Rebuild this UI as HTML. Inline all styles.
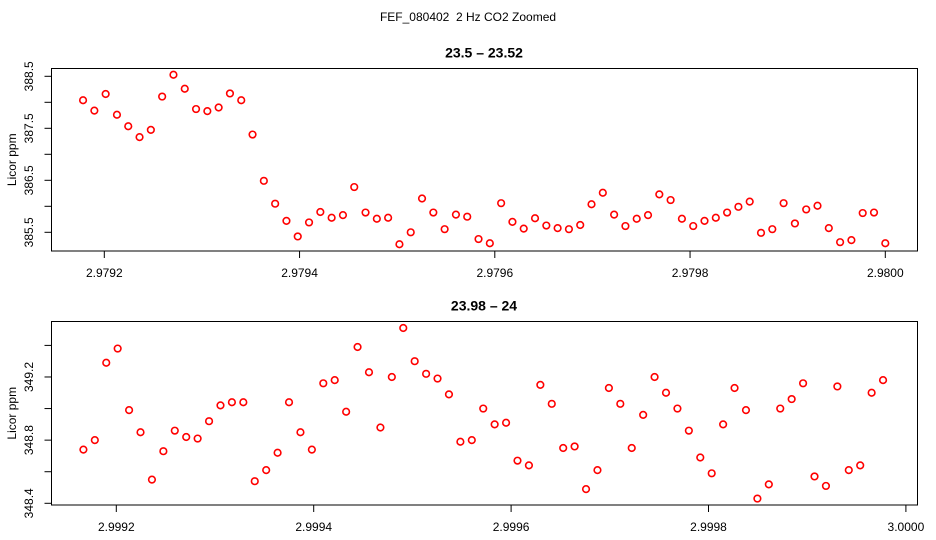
<!DOCTYPE html>
<html><head><meta charset="utf-8"><style>
body{margin:0;background:#fff;}
svg{display:block;font-family:"Liberation Sans",Arial,sans-serif;}
</style></head><body>
<svg id="c" width="936" height="540"></svg>
<script>
const topValues=[388.04,387.84,388.16,387.76,387.54,387.33,387.47,388.11,388.53,388.26,387.87,387.83,387.90,388.17,388.04,387.38,386.49,386.05,385.72,385.42,385.69,385.89,385.78,385.83,386.37,385.88,385.76,385.78,385.27,385.50,386.15,385.88,385.56,385.84,385.80,385.37,385.29,386.06,385.70,385.57,385.77,385.63,385.58,385.56,385.64,386.04,386.26,385.84,385.62,385.76,385.83,386.23,386.12,385.76,385.62,385.72,385.78,385.88,385.99,386.09,385.49,385.56,386.06,385.67,385.94,386.01,385.58,385.31,385.35,385.87,385.88,385.29];
const bottomValues=[348.74,348.80,349.29,349.38,348.99,348.85,348.55,348.73,348.86,348.82,348.81,348.92,349.02,349.04,349.04,348.54,348.61,348.72,349.04,348.85,348.74,349.16,349.18,348.98,349.39,349.23,348.88,349.20,349.51,349.30,349.22,349.19,349.09,348.79,348.80,349.00,348.90,348.91,348.67,348.64,349.15,349.03,348.75,348.76,348.49,348.61,349.13,349.03,348.75,348.96,349.20,349.10,349.00,348.86,348.69,348.59,348.90,349.13,348.99,348.43,348.52,349.00,349.06,349.16,348.57,348.51,349.14,348.61,348.64,349.10,349.18];
const topXTicks=["2.9792","2.9794","2.9796","2.9798","2.9800"];
const topYTicks=[385.5,386,386.5,387,387.5,388,388.5];
const topYLabels=["385.5","","386.5","","387.5","","388.5"];
const bottomXTicks=["2.9992","2.9994","2.9996","2.9998","3.0000"];
const bottomYTicks=[348.4,348.6,348.8,349.0,349.2,349.4];
const bottomYLabels=["348.4","","348.8","","349.2",""];
const STEP=1/86400;
const topLast=2.98, bottomLast=3.0-2*STEP;

const svg=document.getElementById('c');
const NS='http://www.w3.org/2000/svg';
function mk(t,a,p){const e=document.createElementNS(NS,t);for(const k in a)e.setAttribute(k,a[k]);(p||svg).appendChild(e);return e;}

const tt=mk('text',{x:468,y:21,'text-anchor':'middle','font-size':12});
tt.textContent='FEF_080402\u00a0 2 Hz CO2 Zoomed';



function panel(cfg){
  const g=mk('g',{});
  
  
  const xs=v=>cfg.x0px+(v-cfg.x0)/0.0002*cfg.xs;
  const ys=v=>cfg.y0px-(v-cfg.y0)*cfg.ys;
  const r=mk('rect',{x:51.5,y:cfg.top,width:866,height:cfg.bot-cfg.top,fill:'none',stroke:'#000','stroke-width':1},g);
  
  
  const t=mk('text',{x:484,y:cfg.top-11,'text-anchor':'middle','font-size':14,'font-weight':'bold'},g);
  t.textContent=cfg.title;
  
  
  cfg.xt.forEach(l=>{
    const x=xs(parseFloat(l));
    mk('line',{x1:x,x2:x,y1:cfg.bot,y2:cfg.bot+7,stroke:'#000'},g);
    const tx=mk('text',{x:x,y:cfg.bot+26,'text-anchor':'middle','font-size':12},g);
    tx.textContent=l;
    
    
  });
  cfg.yt.forEach((v,i)=>{
    const y=ys(v);
    mk('line',{x1:44.5,x2:51.5,y1:y,y2:y,stroke:'#000'},g);
    if(cfg.yl[i]){
      const ty=mk('text',{x:0,y:0,'text-anchor':'middle','font-size':12,transform:`translate(33,${y}) rotate(-90)`},g);
      ty.textContent=cfg.yl[i];
      
      
    }
  });
  const yl=mk('text',{x:0,y:0,'text-anchor':'middle','font-size':12,transform:`translate(16,${(cfg.top+cfg.bot)/2}) rotate(-90)`},g);
  yl.textContent='Licor ppm';
  
  
  const n=cfg.vals.length;
  cfg.vals.forEach((v,i)=>{
    const c=mk('circle',{cx:xs(cfg.last-(n-1-i)*STEP),cy:ys(v),r:3.3,fill:'none',stroke:'#f00','stroke-width':1.6},g);
    
    
  });
}
panel({name:'top-panel',title:'23.5 – 23.52',top:68.5,bot:251,x0:2.9792,x0px:104.3,xs:195.25,y0:385.5,y0px:232.3,ys:52,xt:topXTicks,yt:topYTicks,yl:topYLabels,vals:topValues,last:topLast});
panel({name:'bottom-panel',title:'23.98 – 24',top:321.5,bot:505,x0:2.9992,x0px:116.3,xs:197.4,y0:348.4,y0px:503.3,ys:157.9,xt:bottomXTicks,yt:bottomYTicks,yl:bottomYLabels,vals:bottomValues,last:bottomLast});
</script>
</body></html>
